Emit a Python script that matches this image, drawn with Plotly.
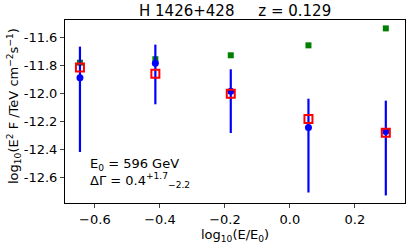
import plotly.graph_objects as go

x_vals = [-0.646, -0.414, -0.182, 0.057, 0.295]
blue_y = [-11.886, -11.783, -11.983, -12.241, -12.270]
blue_err_plus = [0.222, 0.133, 0.157, 0.205, 0.220]
blue_err_minus = [0.531, 0.293, 0.298, 0.465, 0.457]
red_y = [-11.814, -11.857, -12.000, -12.181, -12.280]
green_y = [-11.779, -11.754, -11.726, -11.655, -11.534]

x_ticks = [-0.6, -0.4, -0.2, 0.0, 0.2]
x_ticktext = ["\u22120.6", "\u22120.4", "\u22120.2", "0.0", "0.2"]
y_ticks = [-11.6, -11.8, -12.0, -12.2, -12.4, -12.6]
y_ticktext = ["-11.6", "-11.8", "-12.0", "-12.2", "-12.4", "-12.6"]

font = "DejaVu Sans"
W, H = 415, 247
L, R, T, B = 65, 10, 20, 44
pw, ph = W - L - R, H - T - B

def px(x):
    return (x - L) / pw

def py(y):
    return (H - B - y) / ph

fig = go.Figure()
fig.add_trace(go.Scatter(
    x=x_vals, y=green_y, mode="markers",
    marker=dict(symbol="square", size=6, color="#008000"),
    showlegend=False))
fig.add_trace(go.Scatter(
    x=x_vals, y=blue_y, mode="markers",
    marker=dict(symbol="circle", size=7, color="#0000ff"),
    error_y=dict(type="data", array=blue_err_plus, arrayminus=blue_err_minus,
                 color="#0000ff", thickness=2.2, width=0),
    showlegend=False))
fig.add_trace(go.Scatter(
    x=x_vals, y=red_y, mode="markers",
    marker=dict(symbol="square-open", size=8, color="#ff0000",
                line=dict(width=2, color="#ff0000")),
    showlegend=False))

fig.update_layout(
    width=W, height=H,
    margin=dict(l=L, r=R, t=T, b=B),
    plot_bgcolor="white", paper_bgcolor="white",
    font=dict(family=font, size=13, color="black"),
    xaxis=dict(range=[-0.692, 0.354], tickvals=x_ticks, ticktext=x_ticktext,
               ticks="outside", ticklen=4, tickwidth=1, showgrid=False,
               zeroline=False, showline=True, linecolor="black", linewidth=1,
               mirror=True, tickfont=dict(family=font, size=13)),
    yaxis=dict(range=[-12.781, -11.474], tickvals=y_ticks, ticktext=y_ticktext,
               ticks="outside", ticklen=4, tickwidth=1, showgrid=False,
               zeroline=False, showline=True, linecolor="black", linewidth=1,
               mirror=True, tickfont=dict(family=font, size=13)),
    annotations=[
        dict(text="H 1426+428\u00a0\u00a0\u00a0\u00a0\u00a0z = 0.129",
             xref="paper", yref="paper", x=px(235), y=py(11), xanchor="center", yanchor="middle",
             showarrow=False, font=dict(family=font, size=15, color="black")),
        dict(text="log<sub>10</sub>(E/E<sub>0</sub>)",
             xref="paper", yref="paper", x=px(235), y=py(235), xanchor="center", yanchor="middle",
             showarrow=False, font=dict(family=font, size=13, color="black")),
        dict(text="log<sub>10</sub>(E<sup>2</sup> F /TeV cm<sup>\u22122</sup>s<sup>\u22121</sup>)",
             xref="paper", yref="paper", x=px(14), y=py(106), xanchor="center", yanchor="middle",
             textangle=-90, showarrow=False, font=dict(family=font, size=13, color="black")),
        dict(text="E<sub>0</sub> = 596 GeV<br>\u0394\u0393 = 0.4<sup>+1.7</sup><sub>\u22122.2</sub>",
             xref="paper", yref="paper", x=px(88), y=py(154), xanchor="left", yanchor="top",
             align="left", showarrow=False, font=dict(family=font, size=13, color="black")),
    ],
)

fig.write_html("out.html", config={"displayModeBar": False},
               post_script="document.body.style.margin='0';document.body.style.padding='0';")
